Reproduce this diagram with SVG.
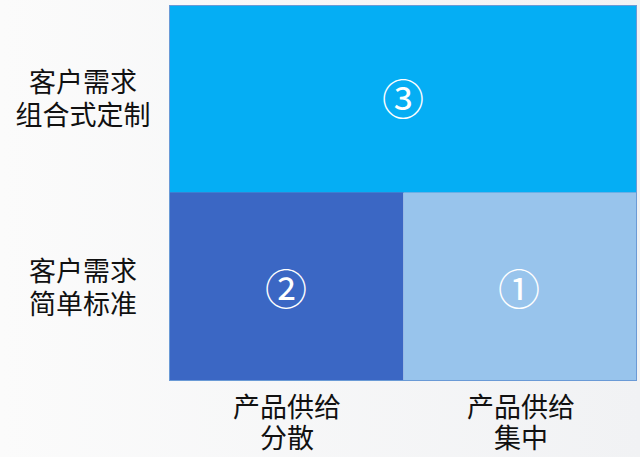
<svg xmlns="http://www.w3.org/2000/svg" width="640" height="457" viewBox="0 0 640 457">
<defs>
<linearGradient id="bg" x1="0" y1="0" x2="1" y2="0">
<stop offset="0" stop-color="#fbfbfb"/>
<stop offset="1" stop-color="#f1f2f4"/>
</linearGradient>
<style>
.lbl{font-family:"Liberation Sans","Noto Sans CJK SC",sans-serif;font-size:27px;fill:#111;text-anchor:middle}
.num{font-family:"Noto Sans CJK SC",sans-serif;font-size:42px;fill:#ffffff;text-anchor:middle;dominant-baseline:central}
</style>
</defs>
<rect width="640" height="457" fill="url(#bg)"/>
<g id="cell3"><rect x="169.5" y="5.5" width="467" height="187" fill="#05aef4" stroke="#3d9be0"/><text class="num" x="403" y="96">③</text></g>
<g id="cell2"><rect x="169.5" y="192.5" width="234" height="188" fill="#3b67c4"/><text class="num" x="286" y="286">②</text></g>
<g id="cell1"><rect x="403.5" y="192.5" width="233" height="188" fill="#98c4ec"/><text class="num" x="519" y="286">①</text></g>
<g id="frame"><rect x="169.5" y="5.5" width="467" height="375" fill="none" stroke="#6a9ad6" stroke-width="1"/></g>
<g id="row-top-label"><text class="lbl" x="83" y="92">客户需求</text><text class="lbl" x="83" y="125">组合式定制</text></g>
<g id="row-bottom-label"><text class="lbl" x="83" y="281">客户需求</text><text class="lbl" x="83" y="314">简单标准</text></g>
<g id="col-left-label"><text class="lbl" x="287" y="417">产品供给</text><text class="lbl" x="287" y="448">分散</text></g>
<g id="col-right-label"><text class="lbl" x="521" y="417">产品供给</text><text class="lbl" x="521" y="448">集中</text></g>
<g id="connectors"/>
</svg>
